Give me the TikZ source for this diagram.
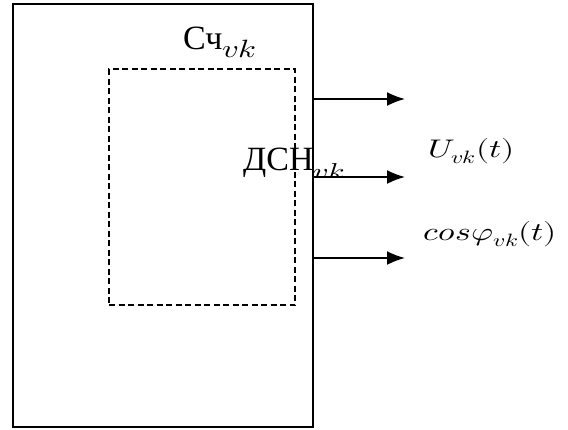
\documentclass[tikz,border=0pt]{standalone}
\usepackage{fontspec}
\usepackage{unicode-math}
\usepackage{graphicx}
\setmainfont{Liberation Serif}
\setmathfont{Latin Modern Math}
\usetikzlibrary{arrows.meta}
\tikzset{
  frame/.style={draw, line width=1.5pt, inner sep=0pt},
  dashframe/.style={draw, line width=1.4pt, dash pattern=on 6pt off 3.5pt, inner sep=0pt},
  outarrow/.style={line width=1.8pt, -{Latex[length=18pt,width=14pt]}},
  lbl/.style={inner sep=0pt, anchor=base west},
  bigtext/.style={font=\fontsize{34}{38}\selectfont},
  sigtext/.style={font=\fontsize{25}{29}\selectfont},
}
% wide subscript as used in the block labels
\newcommand{\blocksub}[2]{\raisebox{#1}{\fontsize{#2}{#2}\selectfont\scalebox{1.3}[1]{$vk$}}}
% signal names set wide
\newcommand{\widemath}[1]{\scalebox{1.35}[1.02]{$#1$}}
\begin{document}
\begin{tikzpicture}[x=1pt,y=-1pt]
  \useasboundingbox (0,0) rectangle (568,429);
  % counter block and the voltage sensor inside it
  \node[frame, minimum width=300pt, minimum height=423pt] (sch) at (163,215.5) {};
  \node[dashframe, minimum width=186pt, minimum height=236pt] (dsn) at (202,187) {};
  % block labels
  \node[lbl, bigtext] (schlbl) at (183,49) {Сч\blocksub{-8pt}{25}};
  \begin{scope}
    \clip (235,130) rectangle (350,176);
    \node[lbl, bigtext] (dsnlbl) at (243,170) {ДСН\blocksub{-9pt}{23}};
  \end{scope}
  % output signals
  \coordinate (o1) at (405,99);
  \coordinate (o2) at (405,177);
  \coordinate (o3) at (405,258);
  \draw[outarrow] (sch.east |- o1) -- (o1);
  \draw[outarrow] (sch.east |- o2) -- (o2);
  \draw[outarrow] (sch.east |- o3) -- (o3);
  \node[lbl, sigtext] (ulbl) at (428,157) {\widemath{U_{vk}(t)}};
  \node[lbl, sigtext] (cosl) at (423,240) {\widemath{cos\varphi_{vk}(t)}};
\end{tikzpicture}
\end{document}
